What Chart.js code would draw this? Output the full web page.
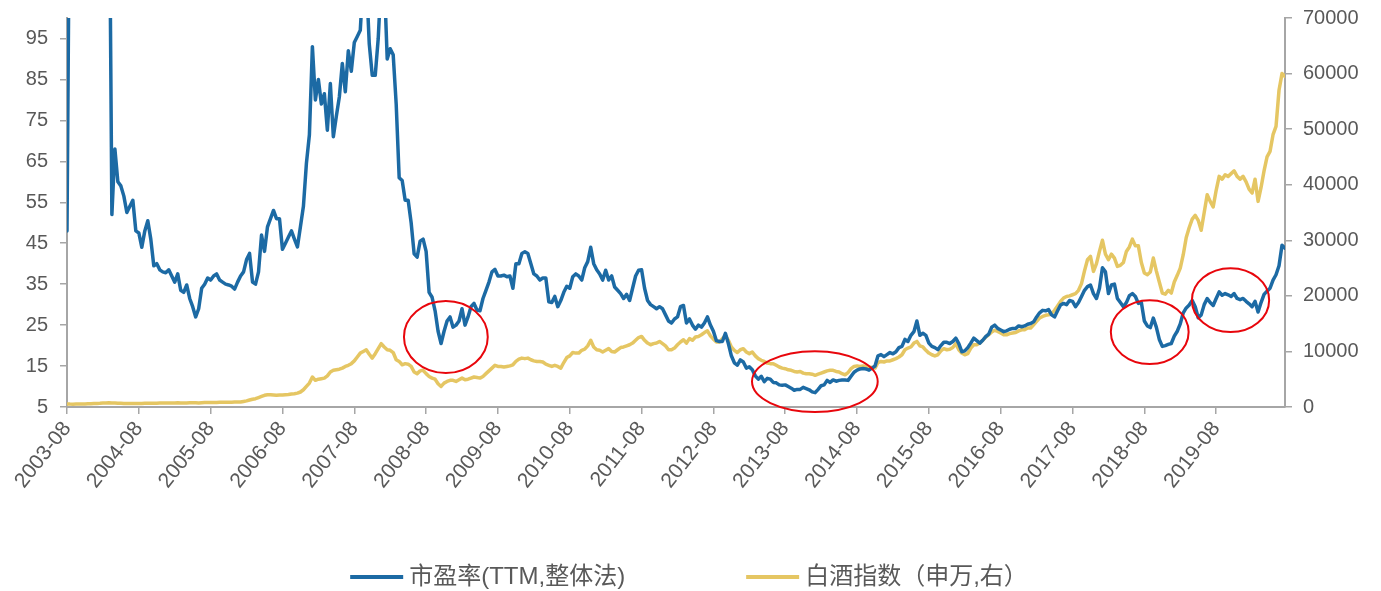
<!DOCTYPE html>
<html>
<head>
<meta charset="utf-8">
<script src="https://cdn.jsdelivr.net/npm/chart.js@4.4.0/dist/chart.umd.min.js"></script>
<style>
    html, body { margin: 0; padding: 0; background: #ffffff; }
    #wrap { width: 1381px; height: 591px; }
</style>
</head>
<body>
<div id="wrap"><canvas id="peChart"></canvas></div>
<script>
// 半月一个点, 2003-08 起
const tickLabels = ['2003-08', '2004-08', '2005-08', '2006-08', '2007-08', '2008-08', '2009-08', '2010-08', '2011-08',
    '2012-08', '2013-08', '2014-08', '2015-08', '2016-08', '2017-08', '2018-08', '2019-08'];
const pointsPerYear = 24;

const leftTicks = [5, 15, 25, 35, 45, 55, 65, 75, 85, 95];
const rightTicks = [0, 10000, 20000, 30000, 40000, 50000, 60000, 70000];

// 市盈率(TTM,整体法)
const pe = [
    48, 150, 150, 150, 150, 150, 150, 150, 150, 150, 150, 150, 150, 150, 150, 52, 68, 60, 59, 56.5, 52.5, 54, 55.5, 48,
    47.5, 44, 48, 50.5, 46, 39.5, 40, 38.5, 38, 37.8, 38.5, 37, 35.5, 37.5, 33.5, 33, 34.8, 31.5, 29.5, 27, 29, 34, 35, 36.5,
    36, 37, 37.5, 36, 35.5, 35, 34.8, 34.5, 33.8, 35.5, 37, 38, 41, 42.5, 35.5, 35, 38, 47, 43, 49, 51, 53, 51, 51,
    43.5, 45, 46.5, 48, 46, 44.1, 49, 54, 64.5, 71.5, 93, 80, 85, 79, 81.5, 72.6, 84, 71, 76, 80.7, 88.9, 82, 92, 87,
    94, 95.5, 97, 110, 110, 93.7, 86, 86, 95, 110, 110, 90, 92.5, 91, 79, 61, 60.3, 55.5, 55.5, 50, 42.4, 41.6, 45.5, 46,
    43, 33, 31.8, 28.5, 23.5, 20.5, 23.5, 26, 27, 24.5, 25, 26, 29, 25, 27, 29.5, 30.3, 28.7, 28.5, 31.5, 33.5, 35.5, 38, 38.6,
    37, 37, 37.2, 36.8, 37, 34, 40, 40, 42.5, 42.9, 42.5, 40, 37.5, 37, 36, 36.5, 36.5, 30.7, 30.5, 32, 29.5, 31, 33, 34.5,
    34, 36.8, 37.5, 37, 36, 39, 40.5, 44, 40, 38.5, 37.5, 36, 38.4, 36, 37, 34.3, 33.5, 32.7, 31.5, 32.5, 31, 34, 37, 38.4,
    38.5, 34, 31, 30, 29.5, 29, 29.5, 29, 27.5, 26, 25.5, 26.5, 27, 29.5, 29.8, 25.5, 26.5, 25, 24, 25, 24.5, 25.5, 27, 25,
    23.5, 21.2, 21, 21, 23, 20.5, 17.5, 15.8, 15.2, 16.5, 16, 14.5, 14.8, 14.1, 12.6, 11.8, 12.5, 11.2, 12, 11.8, 11, 10.9, 10.4, 10.3,
    10.4, 10, 9.6, 9.1, 9.3, 9.3, 9.8, 9.5, 9.2, 8.7, 8.5, 9.3, 10.2, 10.4, 11.5, 11, 11.6, 11.3, 11.5, 11.6, 11.6, 11.5, 12.5, 13.5,
    14, 14.3, 14.4, 14.3, 14, 14.5, 15, 17.5, 17.8, 17.3, 17.8, 18.3, 18, 18.5, 19.5, 19.8, 21.5, 21, 22.5, 23.4, 26, 22.5, 23, 22.5,
    20.6, 19.8, 19.5, 19, 20, 20.8, 20.8, 20.5, 21, 21.8, 20.5, 18.5, 18.7, 19.5, 20.6, 21.8, 21.2, 20.6, 21.3, 22.2, 22.8, 24.5, 25, 24.2,
    23.8, 23.4, 23.6, 24, 24.2, 24.2, 24.8, 24.6, 24.8, 25.2, 25.4, 25.8, 27, 28, 28.6, 28.5, 28.8, 27.5, 27, 28.5, 29.9, 30.3, 30, 31,
    30.8, 29.5, 30.5, 32, 33.5, 34.4, 34.8, 32.7, 31.5, 34, 39, 38, 32.7, 34.8, 35, 31.5, 30.5, 29.5, 30.5, 32.2, 32.7, 32, 30.3, 30.5,
    26, 24.8, 24.4, 26.7, 24.5, 21.5, 19.8, 20, 20.3, 20.5, 22.3, 23.5, 25.3, 28, 29.2, 29.9, 31, 29.5, 26.8, 27.5, 30, 31.5, 30.5, 29.8,
    31.5, 33.1, 32.3, 32.7, 32.4, 32, 32.7, 31.5, 31.2, 31.5, 30.8, 30.2, 29.5, 30.8, 28.2, 30.5, 32.5, 33.3, 34, 36, 37.3, 39.5, 44.5, 43.8
];

// 白酒指数(申万)
const baijiu = [
    550, 520, 510, 530, 520, 540, 560, 580, 600, 620, 640, 660, 700, 740, 760, 740, 720, 680, 660, 640, 620, 640, 650, 640,
    620, 640, 660, 680, 690, 680, 690, 700, 720, 710, 700, 720, 740, 760, 730, 720, 740, 760, 780, 750, 730, 760, 790, 800,
    790, 810, 820, 840, 850, 850, 860, 860, 880, 900, 900, 1000, 1100, 1250, 1400, 1500, 1700, 1900, 2100, 2200, 2200, 2150, 2100, 2150,
    2150, 2200, 2250, 2350, 2400, 2500, 2700, 3100, 3700, 4300, 5400, 4800, 5000, 5100, 5200, 5600, 6300, 6600, 6700, 6800, 7000, 7300, 7500, 7800,
    8300, 9000, 9700, 10000, 10300, 9500, 8800, 9600, 10500, 11400, 10800, 10300, 10200, 9800, 8500, 8200, 7600, 7800, 7700, 7300, 6300, 6000, 6500, 6600,
    6000, 5500, 5200, 5000, 4200, 3700, 4300, 4600, 4800, 4800, 4600, 4900, 5200, 4900, 5000, 5200, 5400, 5300, 5200, 5500, 6000, 6500, 7000, 7500,
    7300, 7300, 7200, 7300, 7400, 7600, 8200, 8600, 8800, 8700, 8800, 8500, 8300, 8200, 8200, 8100, 7700, 7500, 7300, 7500, 7300, 7000, 8000, 8900,
    9200, 9800, 9700, 9700, 10200, 10400, 11000, 12000, 10800, 10300, 10200, 9900, 10200, 10500, 10000, 9900, 10300, 10700, 10800, 11000, 11200, 11500, 12000, 12500,
    12700, 12000, 11500, 11200, 11400, 11500, 11800, 11400, 11000, 10300, 10300, 10600, 11200, 11700, 12100, 11500, 12300, 12000, 12600, 12700, 13000, 13400, 13700, 12800,
    12200, 11700, 11700, 12300, 12900, 12000, 10800, 10200, 9800, 10300, 10500, 9900, 9600, 9900, 9200, 8700, 8400, 8200, 7900, 7800, 7800, 7500, 7200, 7000,
    6900, 6700, 6600, 6400, 6300, 6400, 6100, 6000, 6000, 5900, 5700, 5900, 6100, 6300, 6500, 6600, 6600, 6400, 6300, 6000, 5800, 6200, 6900, 7300,
    7400, 7300, 7400, 7300, 7200, 7100, 7000, 8000, 8200, 8100, 8300, 8300, 8500, 8700, 9000, 9400, 10300, 10600, 10800, 11500, 11800, 11000, 10800, 10200,
    9700, 9400, 9200, 9400, 10100, 10500, 10300, 10400, 10700, 11400, 10300, 9700, 9400, 9600, 10600, 11200, 11200, 11500, 12000, 12600, 13000, 13500, 13800, 13600,
    13300, 13000, 13000, 13200, 13300, 13400, 13700, 13900, 13900, 14200, 14200, 14800, 15400, 16000, 16300, 16500, 16600, 16800, 17400, 18200, 19000, 19600, 19900, 20000,
    20200, 20400, 21000, 22200, 24500, 26500, 27100, 24400, 25800, 28000, 30000, 27500, 26500, 27500, 26800, 25300, 25500, 26000, 28000, 28800, 30200, 29000, 29000, 26000,
    24100, 23800, 24300, 26800, 24500, 22500, 20500, 20300, 21000, 20500, 22500, 23700, 25000, 27400, 30500, 32300, 33800, 34500, 33600, 31800, 35000, 38200, 37000, 36000,
    39000, 41500, 41000, 41800, 41500, 42000, 42500, 41500, 41000, 41500, 40500, 39200, 38500, 41000, 37000, 39500, 42500, 45000, 46000, 49000, 50500, 57000, 60000, 59500
];

// 红圈标注 (横轴为点序号, 纵轴为市盈率)
const circles = [
    { x: 126.6, y: 22.1, rx: 14, ry: 8.8 },
    { x: 249.9, y: 11.2, rx: 21, ry: 7.4 },
    { x: 361.8, y: 23.3, rx: 13, ry: 7.8 },
    { x: 388.8, y: 31.1, rx: 12.9, ry: 7.8 }
];

const textColor = '#595959';
const axisColor = '#a6a6a6';
const fontFamily = '"Liberation Sans", Arial, "Noto Sans CJK SC", sans-serif';

const circlePlugin = {
    id: 'circles',
    afterDatasetsDraw(chart) {
        const ctx = chart.ctx;
        const xs = chart.scales.x;
        const ys = chart.scales.y;
        ctx.save();
        ctx.strokeStyle = '#e8060c';
        ctx.lineWidth = 2;
        circles.forEach((c) => {
            const cx = xs.getPixelForValue(c.x);
            const cy = ys.getPixelForValue(c.y);
            const rx = Math.abs(xs.getPixelForValue(c.x + c.rx) - cx);
            const ry = Math.abs(ys.getPixelForValue(c.y + c.ry) - cy);
            ctx.beginPath();
            ctx.ellipse(cx, cy, rx, ry, 0, 0, Math.PI * 2);
            ctx.stroke();
        });
        ctx.restore();
    }
};

// 图例: 两项之间留较大空隙, 自己画
const legendPlugin = {
    id: 'wideLegend',
    afterDraw(chart) {
        const ctx = chart.ctx;
        const y = 577;
        const gap = 121;
        ctx.save();
        ctx.font = '24px ' + fontFamily;
        ctx.textBaseline = 'middle';
        const items = chart.data.datasets.map((ds) => ({
            label: ds.label,
            color: ds.borderColor,
            width: 53 + 6 + ctx.measureText(ds.label).width
        }));
        const total = items.reduce((s, it) => s + it.width, 0) + gap * (items.length - 1);
        let x = 689 - total / 2;
        items.forEach((it) => {
            ctx.strokeStyle = it.color;
            ctx.lineWidth = 4;
            ctx.beginPath();
            ctx.moveTo(x, y);
            ctx.lineTo(x + 53, y);
            ctx.stroke();
            ctx.fillStyle = textColor;
            ctx.fillText(it.label, x + 59, y);
            x += it.width + gap;
        });
        ctx.restore();
    }
};

const noEdgePadding = (scale) => {
    scale.paddingTop = 0;
    scale.paddingBottom = 0;
};

const ctx = document.getElementById('peChart').getContext('2d');
new Chart(ctx, {
    type: 'line',
    data: {
        datasets: [
            {
                label: '市盈率(TTM,整体法)',
                data: pe.map((v, i) => ({ x: i, y: v })),
                borderColor: '#1c6aa4',
                backgroundColor: '#1c6aa4',
                borderWidth: 3.5,
                yAxisID: 'y',
                order: 1
            },
            {
                label: '白酒指数（申万,右）',
                data: baijiu.map((v, i) => ({ x: i, y: v })),
                borderColor: '#e5c663',
                backgroundColor: '#e5c663',
                borderWidth: 3.5,
                yAxisID: 'y1',
                order: 2
            }
        ]
    },
    options: {
        responsive: true,
        maintainAspectRatio: false,
        animation: false,
        events: [],
        layout: { padding: { top: 18, left: 0, right: 0, bottom: 74 } },
        elements: {
            point: { radius: 0 },
            line: { tension: 0, borderJoinStyle: 'round', borderCapStyle: 'round' }
        },
        scales: {
            x: {
                type: 'linear',
                min: 0,
                max: pe.length - 1,
                afterBuildTicks: (scale) => {
                    scale.ticks = tickLabels.map((_, k) => ({ value: k * pointsPerYear }));
                },
                afterFit: (scale) => { scale.height = 110; },
                ticks: {
                    autoSkip: false,
                    minRotation: 52,
                    maxRotation: 52,
                    padding: 3,
                    color: textColor,
                    font: { family: fontFamily, size: 21 },
                    callback: (v) => tickLabels[v / pointsPerYear]
                },
                grid: { display: true, drawOnChartArea: false, tickLength: 7, color: axisColor, lineWidth: 1.5 },
                border: { display: true, color: axisColor, width: 2 }
            },
            y: {
                position: 'left',
                min: 5,
                max: 100,
                afterBuildTicks: (scale) => {
                    scale.ticks = leftTicks.map((v) => ({ value: v }));
                },
                afterFit: (scale) => { scale.width = 67; noEdgePadding(scale); },
                ticks: { color: textColor, padding: 12, font: { family: fontFamily, size: 20 } },
                grid: { display: true, drawOnChartArea: false, tickLength: 7, color: axisColor, lineWidth: 1.5 },
                border: { display: true, color: axisColor, width: 2 }
            },
            y1: {
                position: 'right',
                min: 0,
                max: 70000,
                afterBuildTicks: (scale) => {
                    scale.ticks = rightTicks.map((v) => ({ value: v }));
                },
                afterFit: (scale) => { scale.width = 96; noEdgePadding(scale); },
                ticks: {
                    color: textColor,
                    padding: 11,
                    font: { family: fontFamily, size: 20 },
                    callback: (v) => String(v)
                },
                grid: { display: true, drawOnChartArea: false, tickLength: 7, color: axisColor, lineWidth: 1.5 },
                border: { display: true, color: axisColor, width: 2 }
            }
        },
        plugins: {
            tooltip: { enabled: false },
            legend: { display: false }
        }
    },
    plugins: [circlePlugin, legendPlugin]
});
</script>
</body>
</html>
